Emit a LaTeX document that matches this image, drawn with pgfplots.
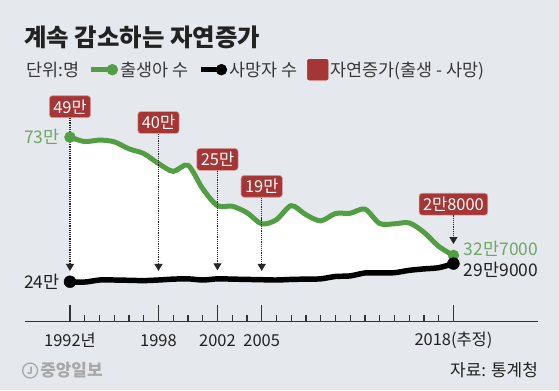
\documentclass[border=0pt]{standalone}
\usepackage{fontspec}
\setmainfont{Noto Sans CJK KR}
\usepackage{pgfplots}
\usepackage{pgfplotstable}
\pgfplotsset{compat=1.18}
\usepgfplotslibrary{fillbetween}
\usetikzlibrary{arrows.meta}
\definecolor{bg}{HTML}{E5E8EC}
\definecolor{gline}{HTML}{529E43}
\definecolor{glabel}{HTML}{6FA862}
\definecolor{boxred}{HTML}{A63535}
\definecolor{txt}{HTML}{222222}
\definecolor{logo}{HTML}{A8A8A8}

\pgfplotstableread{
year births deaths
1992 73.1 23.7
1993 71.6 23.6
1994 72.1 24.3
1995 71.5 24.3
1996 69.1 24.2
1997 67.5 24.1
1998 64.1 24.3
1999 61.4 24.6
2000 63.5 24.7
2001 55.5 24.3
2002 49.7 24.7
2003 49.5 24.6
2004 47.3 24.5
2005 43.5 24.4
2006 44.9 24.3
2007 49.7 24.5
2008 46.6 24.6
2009 44.5 24.7
2010 47.0 25.5
2011 47.1 25.7
2012 48.5 26.7
2013 43.6 26.7
2014 43.5 26.8
2015 43.8 27.6
2016 40.6 28.1
2017 35.8 28.5
2018 32.7 29.9
}\data

\tikzset{
  box/.style={fill=boxred, draw=boxred!45!white, line width=0.6pt, rounded corners=3pt,
    text=white, font=\fontsize{16.5}{16.5}\selectfont, inner xsep=4pt, inner ysep=0pt,
    minimum height=22pt},
  arr/.style={densely dotted, line width=1.2pt, black!85,
    -{Triangle[width=8pt,length=7pt,sep=0pt]}}
}

\begin{document}
\pagecolor{bg}
\begin{tikzpicture}
\path (-23pt,-69pt) rectangle (536pt,323pt);
\begin{axis}[
  at={(0pt,0pt)}, anchor=south west,
  scale only axis, width=515pt, height=233pt,
  xmin=1988.96, xmax=2023.74, ymin=10.05, ymax=89.33, clip=false,
  axis x line*=bottom, axis y line=none,
  x axis line style={black!80, line width=1.2pt},
  xtick={1992,1998,2002,2005,2018},
  xticklabels={1992년,1998,2002,2005,2018(추정)},
  minor xtick={1993,1994,...,2017},
  xtick align=inside,
  major tick length=17pt, minor tick length=6.5pt,
  tick style={black!80, line width=1.2pt},
  xticklabel style={font=\fontsize{16.5}{18}\selectfont, text=txt, anchor=center, yshift=-19pt},
  ytick=\empty,
  legend columns=-1,
  legend style={draw=none, fill=none, at={(axis description cs:0.124,1.086)}, anchor=west,
    font=\fontsize{17.5}{20}\selectfont, text=txt!90, inner sep=0pt,
    /tikz/every even column/.append style={column sep=8pt}},
]
% time axis base line and year ticks
\draw[black!80, line width=1.2pt] (axis cs:1988.96,10.05) -- (axis cs:2023.74,10.05);
\pgfplotsinvokeforeach{1993,1994,...,2017}{\draw[black!80, line width=1.2pt] (axis cs:#1,10.05) -- ++(0pt,6.5pt);}
\pgfplotsinvokeforeach{1992,1998,2002,2005,2018}{\draw[black!80, line width=1.2pt] (axis cs:#1,10.05) -- ++(0pt,17pt);}

\addplot[name path=B, draw=none, smooth, forget plot] table[x=year,y=births]{\data};
\addplot[name path=D, draw=none, smooth, forget plot] table[x=year,y=deaths]{\data};
\addplot[white, forget plot] fill between[of=B and D];
\addplot[gline, line width=5pt, smooth, forget plot] table[x=year,y=births]{\data};
\addplot[black, line width=5.5pt, smooth, forget plot] table[x=year,y=deaths]{\data};
\addplot[only marks, mark=*, mark size=5.5pt, gline, mark indices={1,27}, forget plot] table[x=year,y=births]{\data};
\addplot[only marks, mark=*, mark size=6pt, black, mark indices={1,27}, forget plot] table[x=year,y=deaths]{\data};

\addlegendimage{legend image code/.code={\draw[gline, line width=5pt] (0pt,0pt) -- (20pt,0pt); \fill[gline] (21pt,0pt) circle (5.5pt);}}
\addlegendentry{출생아 수}
\addlegendimage{legend image code/.code={\draw[black, line width=5pt] (0pt,0pt) -- (20pt,0pt); \fill[black] (21pt,0pt) circle (5.5pt);}}
\addlegendentry{사망자 수}
\addlegendimage{legend image code/.code={\fill[boxred, rounded corners=2pt] (0pt,-10.5pt) rectangle (21pt,10.5pt);}}
\addlegendentry{자연증가(출생 - 사망)}

\node[box] (n1) at (axis cs:1992,83.5) {49만};
\node[box] (n2) at (axis cs:1998,78.1) {40만};
\node[box] (n3) at (axis cs:2002,65.5) {25만};
\node[box] (n4) at (axis cs:2005,56.3) {19만};
\node[box] (n5) at (axis cs:2018,50.2) {2만8000};
\draw[arr] (n1.south) -- (axis cs:1992,27.4);
\draw[arr] (n2.south) -- (axis cs:1998,27.4);
\draw[arr] (n3.south) -- (axis cs:2002,27.6);
\draw[arr] (n4.south) -- (axis cs:2005,27.4);
\draw[arr] (n5.south) -- (axis cs:2018,36.6);

\node[anchor=east, text=glabel, font=\fontsize{17.5}{18}\selectfont, inner sep=0pt] at (axis cs:1991.3,73.1) {73만};
\node[anchor=east, text=txt, font=\fontsize{17.5}{18}\selectfont, inner sep=0pt] at (axis cs:1991.3,23.7) {24만};
\node[anchor=west, text=glabel, font=\fontsize{17.5}{18}\selectfont, inner sep=0pt] at (axis cs:2018.7,34.9) {32만7000};
\node[anchor=west, text=txt, font=\fontsize{17.5}{18}\selectfont, inner sep=0pt] at (axis cs:2018.7,27.7) {29만9000};
\end{axis}

\node[anchor=west, text=txt, font=\fontsize{24.5}{24.5}\selectfont\bfseries, inner sep=0pt] at (-1pt,285pt) {계속 감소하는 자연증가};
\node[anchor=west, text=txt!90, font=\fontsize{17.5}{18}\selectfont, inner sep=0pt] at (1pt,253pt) {단위:명};
\draw[logo, line width=1.3pt] (5pt,-49pt) circle (7.5pt);
\node[text=logo, font=\fontsize{10}{10}\selectfont\bfseries, inner sep=0pt] at (5pt,-49pt) {J};
\node[anchor=west, text=logo, font=\fontsize{17}{18}\selectfont\bfseries, inner sep=0pt] at (15pt,-49pt) {중앙일보};
\node[anchor=east, text=txt, font=\fontsize{17}{18}\selectfont, inner sep=0pt] at (515pt,-49pt) {자료: 통계청};
\pgfresetboundingbox
\path (-23pt,-69pt) rectangle (536pt,323pt);
\end{tikzpicture}
\end{document}
